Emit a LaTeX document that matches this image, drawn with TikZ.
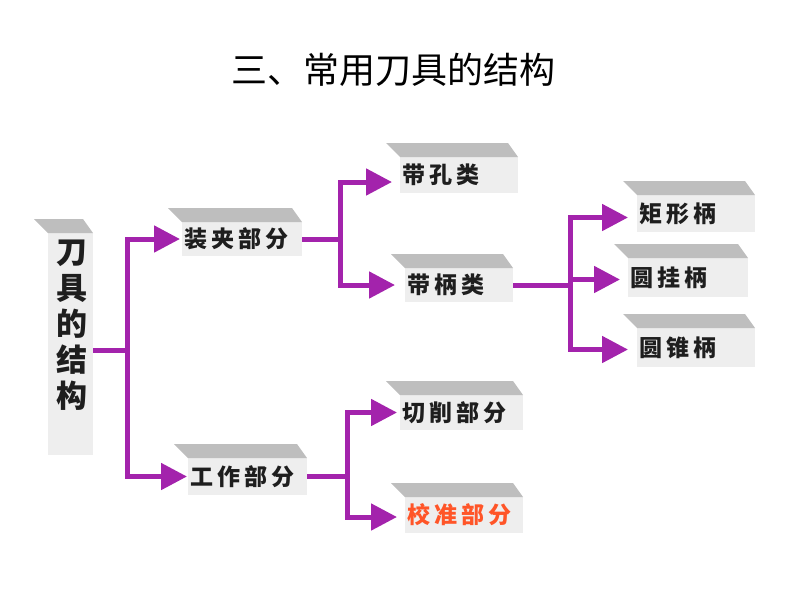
\documentclass[tikz,border=0pt]{standalone}
\usepackage{fontspec}
\setmainfont{Noto Sans CJK SC}
\usetikzlibrary{arrows.meta}
\definecolor{pur}{RGB}{163,35,172}
\definecolor{facec}{RGB}{238,238,238}
\definecolor{topc}{RGB}{190,190,190}
\definecolor{txtc}{RGB}{30,30,30}
\definecolor{orangec}{RGB}{255,85,40}
\begin{document}
\begin{tikzpicture}[x=1pt,y=-1pt,
  face/.style={fill=facec, inner sep=0pt, outer sep=0pt},
  lab/.style={anchor=west, inner sep=0pt, text=txtc, font=\fontsize{23}{23}\selectfont\bfseries},
  wire/.style={draw=pur, line width=5pt},
  arr/.style={wire, -{Triangle[length=26pt,width=26pt]}},
]
\path[use as bounding box] (0,0) rectangle (794,614);

\node[font=\fontsize{36}{36}\selectfont, text=black] (title) at (393,70) {三、常用刀具的结构};

% boxes (front faces)
\node[face, minimum width=45pt, minimum height=222pt] (main) at (70.5,344) {};
\node[face, minimum width=120pt, minimum height=34pt] (zj) at (242,239) {};
\node[face, minimum width=119pt, minimum height=37pt] (gz) at (247.5,476.5) {};
\node[face, minimum width=118pt, minimum height=36pt] (dk) at (459,175) {};
\node[face, minimum width=108pt, minimum height=34pt] (db) at (459,285) {};
\node[face, minimum width=118pt, minimum height=37pt] (jx) at (696,213.5) {};
\node[face, minimum width=120pt, minimum height=39pt] (yg) at (688,277.5) {};
\node[face, minimum width=118pt, minimum height=39pt] (yz) at (696,347.5) {};
\node[face, minimum width=123pt, minimum height=35pt] (qx) at (461.5,412.5) {};
\node[face, minimum width=118pt, minimum height=36pt] (jz) at (464,515) {};

% top faces
\foreach \n in {main,zj,gz,dk,db,jx,yg,yz,qx,jz}
  \fill[topc] (\n.north west) -- ++(-14,-14) -- ([shift={(-10,-14)}]\n.north east) -- (\n.north east) -- cycle;

% labels
\node[font=\fontsize{31}{36}\selectfont\bfseries, align=center, text=txtc, inner sep=0pt] (mt) at (72,325) {刀\\具\\的\\结\\构};
\node[lab] (zjt) at ([xshift=2pt]zj.west) {装\kern4pt 夹\kern4pt 部\kern4pt 分};
\node[lab] (gzt) at ([xshift=2pt]gz.west) {工\kern4pt 作\kern4pt 部\kern4pt 分};
\node[lab] (dkt) at ([xshift=2pt]dk.west) {带\kern4pt 孔\kern4pt 类};
\node[lab] (dbt) at ([xshift=2pt]db.west) {带\kern4pt 柄\kern4pt 类};
\node[lab] (jxt) at ([xshift=2pt]jx.west) {矩\kern4pt 形\kern4pt 柄};
\node[lab] (ygt) at ([xshift=2pt]yg.west) {圆\kern4pt 挂\kern4pt 柄};
\node[lab] (yzt) at ([xshift=2pt]yz.west) {圆\kern4pt 锥\kern4pt 柄};
\node[lab] (qxt) at ([xshift=2pt]qx.west) {切\kern4pt 削\kern4pt 部\kern4pt 分};
\node[lab, text=orangec] (jzt) at ([xshift=2pt]jz.west) {校\kern4pt 准\kern4pt 部\kern4pt 分};

% connectors
\coordinate (b1) at (127,350);
\draw[wire] ([yshift=-6pt]main.east) -- (b1);
\draw[arr] (b1) |- ([xshift=-2pt]zj.west);
\draw[arr] (b1) |- ([xshift=-1pt]gz.west);

\draw[wire] (zj.east) -- ++(38,0) coordinate (b2);
\draw[arr] (b2) |- ([shift={(-8,7)}]dk.west);
\draw[arr] (b2) |- ([xshift=-10pt]db.west);

\draw[wire] (db.east) -- ++(57,0) coordinate (b3);
\draw[arr] (b3) |- ([shift={(-9,4)}]jx.west);
\draw[arr] (b3) |- ([shift={(-8,2)}]yg.west);
\draw[arr] (b3) |- ([shift={(-9,2)}]yz.west);

\draw[wire] (gz.east) -- ++(40,0) coordinate (b4);
\draw[arr] (b4) |- ([xshift=-3pt]qx.west);
\draw[arr] (b4) |- ([shift={(-8,2)}]jz.west);
\end{tikzpicture}
\end{document}
